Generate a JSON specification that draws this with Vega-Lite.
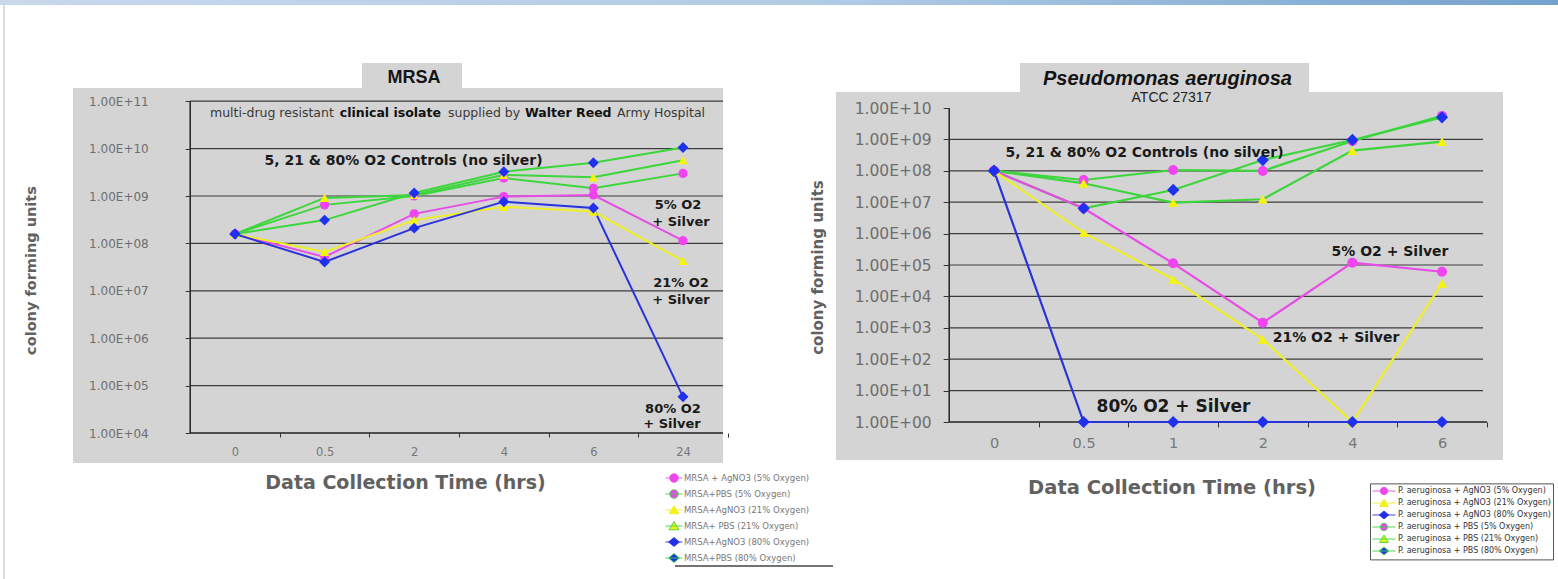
{
  "$schema": "https://vega.github.io/schema/vega-lite/v6.json",
  "padding": 0,
  "background": "white",
  "bounds": "flush",
  "spacing": 0,
  "resolve": {
    "scale": {"color": "independent", "fill": "independent", "stroke": "independent", "shape": "independent", "x": "independent", "y": "independent"},
    "legend": {"color": "independent", "fill": "independent", "stroke": "independent", "shape": "independent"}
  },
  "config": {"view": {"stroke": null}, "font": "DejaVu Sans"},
  "datasets": {
    "mrsa": [
      {"s": "MRSA + AgNO3 (5% Oxygen)", "o2": 5, "ag": 1, "t": "0", "i": 0, "cfu": 1.58e8},
      {"s": "MRSA + AgNO3 (5% Oxygen)", "o2": 5, "ag": 1, "t": "0.5", "i": 1, "cfu": 5.2e7},
      {"s": "MRSA + AgNO3 (5% Oxygen)", "o2": 5, "ag": 1, "t": "2", "i": 2, "cfu": 4.2e8},
      {"s": "MRSA + AgNO3 (5% Oxygen)", "o2": 5, "ag": 1, "t": "4", "i": 3, "cfu": 9.7e8},
      {"s": "MRSA + AgNO3 (5% Oxygen)", "o2": 5, "ag": 1, "t": "6", "i": 4, "cfu": 1.05e9},
      {"s": "MRSA + AgNO3 (5% Oxygen)", "o2": 5, "ag": 1, "t": "24", "i": 5, "cfu": 1.14e8},
      {"s": "MRSA+PBS (5% Oxygen)", "o2": 5, "ag": 0, "t": "0", "i": 0, "cfu": 1.58e8},
      {"s": "MRSA+PBS (5% Oxygen)", "o2": 5, "ag": 0, "t": "0.5", "i": 1, "cfu": 6.5e8},
      {"s": "MRSA+PBS (5% Oxygen)", "o2": 5, "ag": 0, "t": "2", "i": 2, "cfu": 1.0e9},
      {"s": "MRSA+PBS (5% Oxygen)", "o2": 5, "ag": 0, "t": "4", "i": 3, "cfu": 2.4e9},
      {"s": "MRSA+PBS (5% Oxygen)", "o2": 5, "ag": 0, "t": "6", "i": 4, "cfu": 1.45e9},
      {"s": "MRSA+PBS (5% Oxygen)", "o2": 5, "ag": 0, "t": "24", "i": 5, "cfu": 3.0e9},
      {"s": "MRSA+AgNO3 (21% Oxygen)", "o2": 21, "ag": 1, "t": "0", "i": 0, "cfu": 1.58e8},
      {"s": "MRSA+AgNO3 (21% Oxygen)", "o2": 21, "ag": 1, "t": "0.5", "i": 1, "cfu": 6.6e7},
      {"s": "MRSA+AgNO3 (21% Oxygen)", "o2": 21, "ag": 1, "t": "2", "i": 2, "cfu": 3.1e8},
      {"s": "MRSA+AgNO3 (21% Oxygen)", "o2": 21, "ag": 1, "t": "4", "i": 3, "cfu": 5.9e8},
      {"s": "MRSA+AgNO3 (21% Oxygen)", "o2": 21, "ag": 1, "t": "6", "i": 4, "cfu": 4.7e8},
      {"s": "MRSA+AgNO3 (21% Oxygen)", "o2": 21, "ag": 1, "t": "24", "i": 5, "cfu": 4.26e7},
      {"s": "MRSA+ PBS (21% Oxygen)", "o2": 21, "ag": 0, "t": "0", "i": 0, "cfu": 1.58e8},
      {"s": "MRSA+ PBS (21% Oxygen)", "o2": 21, "ag": 0, "t": "0.5", "i": 1, "cfu": 9.1e8},
      {"s": "MRSA+ PBS (21% Oxygen)", "o2": 21, "ag": 0, "t": "2", "i": 2, "cfu": 1.05e9},
      {"s": "MRSA+ PBS (21% Oxygen)", "o2": 21, "ag": 0, "t": "4", "i": 3, "cfu": 2.8e9},
      {"s": "MRSA+ PBS (21% Oxygen)", "o2": 21, "ag": 0, "t": "6", "i": 4, "cfu": 2.48e9},
      {"s": "MRSA+ PBS (21% Oxygen)", "o2": 21, "ag": 0, "t": "24", "i": 5, "cfu": 5.7e9},
      {"s": "MRSA+AgNO3 (80% Oxygen)", "o2": 80, "ag": 1, "t": "0", "i": 0, "cfu": 1.58e8},
      {"s": "MRSA+AgNO3 (80% Oxygen)", "o2": 80, "ag": 1, "t": "0.5", "i": 1, "cfu": 4.05e7},
      {"s": "MRSA+AgNO3 (80% Oxygen)", "o2": 80, "ag": 1, "t": "2", "i": 2, "cfu": 2.1e8},
      {"s": "MRSA+AgNO3 (80% Oxygen)", "o2": 80, "ag": 1, "t": "4", "i": 3, "cfu": 7.6e8},
      {"s": "MRSA+AgNO3 (80% Oxygen)", "o2": 80, "ag": 1, "t": "6", "i": 4, "cfu": 5.6e8},
      {"s": "MRSA+AgNO3 (80% Oxygen)", "o2": 80, "ag": 1, "t": "24", "i": 5, "cfu": 5.8e4},
      {"s": "MRSA+PBS (80% Oxygen)", "o2": 80, "ag": 0, "t": "0", "i": 0, "cfu": 1.58e8},
      {"s": "MRSA+PBS (80% Oxygen)", "o2": 80, "ag": 0, "t": "0.5", "i": 1, "cfu": 3.1e8},
      {"s": "MRSA+PBS (80% Oxygen)", "o2": 80, "ag": 0, "t": "2", "i": 2, "cfu": 1.16e9},
      {"s": "MRSA+PBS (80% Oxygen)", "o2": 80, "ag": 0, "t": "4", "i": 3, "cfu": 3.26e9},
      {"s": "MRSA+PBS (80% Oxygen)", "o2": 80, "ag": 0, "t": "6", "i": 4, "cfu": 5.05e9},
      {"s": "MRSA+PBS (80% Oxygen)", "o2": 80, "ag": 0, "t": "24", "i": 5, "cfu": 1.06e10}
    ],
    "pa": [
      {"s": "P. aeruginosa + AgNO3 (5% Oxygen)", "o2": 5, "ag": 1, "t": "0", "i": 0, "cfu": 1e8},
      {"s": "P. aeruginosa + AgNO3 (5% Oxygen)", "o2": 5, "ag": 1, "t": "0.5", "i": 1, "cfu": 6.4e6},
      {"s": "P. aeruginosa + AgNO3 (5% Oxygen)", "o2": 5, "ag": 1, "t": "1", "i": 2, "cfu": 1.13e5},
      {"s": "P. aeruginosa + AgNO3 (5% Oxygen)", "o2": 5, "ag": 1, "t": "2", "i": 3, "cfu": 1.46e3},
      {"s": "P. aeruginosa + AgNO3 (5% Oxygen)", "o2": 5, "ag": 1, "t": "4", "i": 4, "cfu": 1.19e5},
      {"s": "P. aeruginosa + AgNO3 (5% Oxygen)", "o2": 5, "ag": 1, "t": "6", "i": 5, "cfu": 6.1e4},
      {"s": "P. aeruginosa + AgNO3 (21% Oxygen)", "o2": 21, "ag": 1, "t": "0", "i": 0, "cfu": 1e8},
      {"s": "P. aeruginosa + AgNO3 (21% Oxygen)", "o2": 21, "ag": 1, "t": "0.5", "i": 1, "cfu": 1.07e6},
      {"s": "P. aeruginosa + AgNO3 (21% Oxygen)", "o2": 21, "ag": 1, "t": "1", "i": 2, "cfu": 3.5e4},
      {"s": "P. aeruginosa + AgNO3 (21% Oxygen)", "o2": 21, "ag": 1, "t": "2", "i": 3, "cfu": 430},
      {"s": "P. aeruginosa + AgNO3 (21% Oxygen)", "o2": 21, "ag": 1, "t": "4", "i": 4, "cfu": 1},
      {"s": "P. aeruginosa + AgNO3 (21% Oxygen)", "o2": 21, "ag": 1, "t": "6", "i": 5, "cfu": 2.6e4},
      {"s": "P. aeruginosa + AgNO3 (80% Oxygen)", "o2": 80, "ag": 1, "t": "0", "i": 0, "cfu": 1e8},
      {"s": "P. aeruginosa + AgNO3 (80% Oxygen)", "o2": 80, "ag": 1, "t": "0.5", "i": 1, "cfu": 1},
      {"s": "P. aeruginosa + AgNO3 (80% Oxygen)", "o2": 80, "ag": 1, "t": "1", "i": 2, "cfu": 1},
      {"s": "P. aeruginosa + AgNO3 (80% Oxygen)", "o2": 80, "ag": 1, "t": "2", "i": 3, "cfu": 1},
      {"s": "P. aeruginosa + AgNO3 (80% Oxygen)", "o2": 80, "ag": 1, "t": "4", "i": 4, "cfu": 1},
      {"s": "P. aeruginosa + AgNO3 (80% Oxygen)", "o2": 80, "ag": 1, "t": "6", "i": 5, "cfu": 1},
      {"s": "P. aeruginosa + PBS (5% Oxygen)", "o2": 5, "ag": 0, "t": "0", "i": 0, "cfu": 1e8},
      {"s": "P. aeruginosa + PBS (5% Oxygen)", "o2": 5, "ag": 0, "t": "0.5", "i": 1, "cfu": 5.1e7},
      {"s": "P. aeruginosa + PBS (5% Oxygen)", "o2": 5, "ag": 0, "t": "1", "i": 2, "cfu": 1.06e8},
      {"s": "P. aeruginosa + PBS (5% Oxygen)", "o2": 5, "ag": 0, "t": "2", "i": 3, "cfu": 9.9e7},
      {"s": "P. aeruginosa + PBS (5% Oxygen)", "o2": 5, "ag": 0, "t": "4", "i": 4, "cfu": 8.9e8},
      {"s": "P. aeruginosa + PBS (5% Oxygen)", "o2": 5, "ag": 0, "t": "6", "i": 5, "cfu": 5.6e9},
      {"s": "P. aeruginosa + PBS (21% Oxygen)", "o2": 21, "ag": 0, "t": "0", "i": 0, "cfu": 1e8},
      {"s": "P. aeruginosa + PBS (21% Oxygen)", "o2": 21, "ag": 0, "t": "0.5", "i": 1, "cfu": 4.0e7},
      {"s": "P. aeruginosa + PBS (21% Oxygen)", "o2": 21, "ag": 0, "t": "1", "i": 2, "cfu": 9.7e6},
      {"s": "P. aeruginosa + PBS (21% Oxygen)", "o2": 21, "ag": 0, "t": "2", "i": 3, "cfu": 1.24e7},
      {"s": "P. aeruginosa + PBS (21% Oxygen)", "o2": 21, "ag": 0, "t": "4", "i": 4, "cfu": 4.4e8},
      {"s": "P. aeruginosa + PBS (21% Oxygen)", "o2": 21, "ag": 0, "t": "6", "i": 5, "cfu": 8.5e8},
      {"s": "P. aeruginosa + PBS (80% Oxygen)", "o2": 80, "ag": 0, "t": "0", "i": 0, "cfu": 1e8},
      {"s": "P. aeruginosa + PBS (80% Oxygen)", "o2": 80, "ag": 0, "t": "0.5", "i": 1, "cfu": 6.4e6},
      {"s": "P. aeruginosa + PBS (80% Oxygen)", "o2": 80, "ag": 0, "t": "1", "i": 2, "cfu": 2.45e7},
      {"s": "P. aeruginosa + PBS (80% Oxygen)", "o2": 80, "ag": 0, "t": "2", "i": 3, "cfu": 2.2e8},
      {"s": "P. aeruginosa + PBS (80% Oxygen)", "o2": 80, "ag": 0, "t": "4", "i": 4, "cfu": 9.6e8},
      {"s": "P. aeruginosa + PBS (80% Oxygen)", "o2": 80, "ag": 0, "t": "6", "i": 5, "cfu": 5.05e9}
    ]
  },
  "hconcat": [
    {
      "width": 834,
      "height": 579,
      "data": {"values": [{}]},
      "layer": [
        {"mark": {"type": "rect", "fill": {"gradient": "linear", "x1": 0, "y1": 0, "x2": 1, "y2": 0, "stops": [{"offset": 0, "color": "#c9d8ed"}, {"offset": 1, "color": "#b0cbe5"}]}},
         "encoding": {
           "x": {"datum": -2.6228, "type": "quantitative", "scale": {"domain": [-2.6228, 6.6853], "nice": false, "zero": false},
                 "axis": {"values": [0, 1, 2, 3, 4, 5], "labelExpr": "['0','0.5','2','4','6','24'][datum.value]", "offset": -146, "zindex": 1, "domain": false, "grid": false, "ticks": true, "tickSize": 4, "tickWidth": 1, "tickColor": "#333333", "tickOffset": 44.8, "labelOffset": -44.8, "labelFont": "DejaVu Sans", "labelFontSize": 11.5, "labelColor": "#777777", "labelPadding": 9, "labelFlush": false, "labelOverlap": false, "title": "Data Collection Time (hrs)", "titleFont": "DejaVu Sans", "titleFontSize": 19, "titleFontWeight": "bold", "titleColor": "#616161", "titleX": 405, "titleY": 49, "titleAlign": "center", "titleBaseline": "middle", "titleAngle": 0}},
           "x2": {"datum": 6.6853},
           "y": {"datum": 1.0703e13, "type": "quantitative", "scale": {"type": "log", "domain": [8.317, 1.3646e13], "nice": false},
                 "axis": {"values": [1e4, 1e5, 1e6, 1e7, 1e8, 1e9, 1e10, 1e11], "labelExpr": "'1.00E+' + (round(log(datum.value)/LN10) < 10 ? '0' : '') + round(log(datum.value)/LN10)", "offset": -190.2, "zindex": 1, "domain": false, "grid": false, "ticks": true, "tickSize": 5, "tickWidth": 1, "tickColor": "#333333", "labelFont": "DejaVu Sans", "labelFontSize": 12, "labelColor": "#6e6e6e", "labelPadding": 37, "labelOverlap": false, "labelFlush": false, "title": "colony forming units", "titleFont": "DejaVu Sans", "titleFontSize": 14.5, "titleFontWeight": "bold", "titleColor": "#616161", "titleX": -159.2, "titleY": 270, "titleAngle": -90, "titleAlign": "center", "titleBaseline": "middle"}},
           "y2": {"datum": 1.3646e13}
         }},
        {"mark": {"type": "rule", "stroke": "#d2d2d2", "strokeWidth": 1.5}, "encoding": {"x": {"datum": -2.5781}, "y": {"datum": 1.0703e13}, "y2": {"datum": 8.317}}},
        {"mark": {"type": "rect", "fill": "#d4d4d4"}, "encoding": {"x": {"datum": -1.808}, "x2": {"datum": 5.4464}, "y": {"datum": 2328}, "y2": {"datum": 1.8986e11}}},
        {"mark": {"type": "rect", "fill": "#d4d4d4"}, "encoding": {"x": {"datum": 1.4174}, "x2": {"datum": 2.5335}, "y": {"datum": 1.8986e11}, "y2": {"datum": 6.397e11}}},
        {"data": {"values": [{"g": 1e5}, {"g": 1e6}, {"g": 1e7}, {"g": 1e8}, {"g": 1e9}, {"g": 1e10}, {"g": 1e11}]},
         "mark": {"type": "rule", "stroke": "#3c3c3c", "strokeWidth": 1.2},
         "encoding": {"y": {"field": "g", "type": "quantitative"}, "x": {"datum": -0.5}, "x2": {"datum": 5.4464}}},
        {"mark": {"type": "rule", "stroke": "#222222", "strokeWidth": 1.5}, "encoding": {"x": {"datum": -0.5}, "y": {"datum": 1e4}, "y2": {"datum": 1e11}}},
        {"mark": {"type": "rule", "stroke": "#222222", "strokeWidth": 1.5}, "encoding": {"x": {"datum": -0.5}, "x2": {"datum": 5.4464}, "y": {"datum": 1e4}}},
        {"mark": {"type": "rule", "stroke": "#444444", "strokeWidth": 1.5}, "encoding": {"x": {"datum": 4.9107}, "x2": {"datum": 6.6741}, "y": {"datum": 15.64}}},
        {"data": {"name": "mrsa"}, "transform": [{"filter": "datum.ag == 0"}],
         "mark": {"type": "line", "color": "#3cd63c", "strokeWidth": 2},
         "encoding": {"x": {"field": "i", "type": "quantitative"}, "y": {"field": "cfu", "type": "quantitative"}, "detail": {"field": "s"}}},
        {"data": {"name": "mrsa"}, "transform": [{"filter": "datum.ag == 1"}],
         "mark": {"type": "line", "strokeWidth": 2},
         "encoding": {"x": {"field": "i", "type": "quantitative"}, "y": {"field": "cfu", "type": "quantitative"},
                      "color": {"field": "s", "type": "nominal", "scale": {"domain": ["MRSA + AgNO3 (5% Oxygen)", "MRSA+AgNO3 (21% Oxygen)", "MRSA+AgNO3 (80% Oxygen)"], "range": ["#e84ce8", "#eeee2a", "#2a32dc"]}, "legend": null}}},
        {"data": {"name": "mrsa"}, "transform": [{"filter": "datum.o2 == 5"}],
         "mark": {"type": "point", "shape": "circle", "filled": true, "color": "#f044f0", "size": 85, "opacity": 1},
         "encoding": {"x": {"field": "i", "type": "quantitative"}, "y": {"field": "cfu", "type": "quantitative"}}},
        {"data": {"name": "mrsa"}, "transform": [{"filter": "datum.o2 == 21"}],
         "mark": {"type": "point", "shape": "triangle-up", "filled": true, "color": "#f4f40c", "size": 90, "opacity": 1},
         "encoding": {"x": {"field": "i", "type": "quantitative"}, "y": {"field": "cfu", "type": "quantitative"}}},
        {"data": {"name": "mrsa"}, "transform": [{"filter": "datum.o2 == 80"}],
         "mark": {"type": "point", "shape": "diamond", "filled": true, "color": "#1f30ee", "size": 120, "opacity": 1},
         "encoding": {"x": {"field": "i", "type": "quantitative"}, "y": {"field": "cfu", "type": "quantitative"}}},
        {"data": {"name": "mrsa"}, "transform": [{"filter": "false"}],
         "mark": {"type": "point", "filled": true},
         "encoding": {
           "x": {"field": "i", "type": "quantitative"}, "y": {"field": "cfu", "type": "quantitative"},
           "fill": {"field": "s", "type": "nominal", "scale": {"domain": ["MRSA + AgNO3 (5% Oxygen)", "MRSA+PBS (5% Oxygen)", "MRSA+AgNO3 (21% Oxygen)", "MRSA+ PBS (21% Oxygen)", "MRSA+AgNO3 (80% Oxygen)", "MRSA+PBS (80% Oxygen)"], "range": ["#f044f0", "#f044f0", "#f4f40c", "#f4f40c", "#1f30ee", "#1f30ee"]},
                    "legend": {"orient": "none", "legendX": 665, "legendY": 470.1, "title": null, "padding": 0, "rowPadding": 0, "symbolSize": 289, "clipHeight": 15.8, "symbolStrokeWidth": 0.9, "symbolFillColor": "#000000", "symbolOpacity": 1, "labelFont": "DejaVu Sans", "labelFontSize": 8.5, "labelColor": "#777777", "labelOffset": 1, "labelLimit": 300}},
           "stroke": {"field": "s", "type": "nominal", "scale": {"domain": ["MRSA + AgNO3 (5% Oxygen)", "MRSA+PBS (5% Oxygen)", "MRSA+AgNO3 (21% Oxygen)", "MRSA+ PBS (21% Oxygen)", "MRSA+AgNO3 (80% Oxygen)", "MRSA+PBS (80% Oxygen)"], "range": ["#e84ce8", "#3cd63c", "#eeee2a", "#3cd63c", "#2a32dc", "#3cd63c"]},
                    "legend": {"orient": "none", "legendX": 665, "legendY": 470.1, "title": null, "padding": 0, "rowPadding": 0, "symbolSize": 289, "clipHeight": 15.8, "symbolStrokeWidth": 0.9, "symbolFillColor": "#000000", "symbolOpacity": 1, "labelFont": "DejaVu Sans", "labelFontSize": 8.5, "labelColor": "#777777", "labelOffset": 1, "labelLimit": 300}},
           "shape": {"field": "s", "type": "nominal", "scale": {"domain": ["MRSA + AgNO3 (5% Oxygen)", "MRSA+PBS (5% Oxygen)", "MRSA+AgNO3 (21% Oxygen)", "MRSA+ PBS (21% Oxygen)", "MRSA+AgNO3 (80% Oxygen)", "MRSA+PBS (80% Oxygen)"],
                    "range": ["M-1,0H1M0.5,0A0.5,0.5,0,1,1,-0.5,0A0.5,0.5,0,1,1,0.5,0Z", "M-1,0H1M0.5,0A0.5,0.5,0,1,1,-0.5,0A0.5,0.5,0,1,1,0.5,0Z", "M-1,0H1M0,-0.52L0.58,0.44L-0.58,0.44Z", "M-1,0H1M0,-0.52L0.58,0.44L-0.58,0.44Z", "M-1,0H1M0,-0.52L0.64,0L0,0.52L-0.64,0Z", "M-1,0H1M0,-0.52L0.64,0L0,0.52L-0.64,0Z"]},
                    "legend": {"orient": "none", "legendX": 665, "legendY": 470.1, "title": null, "padding": 0, "rowPadding": 0, "symbolSize": 289, "clipHeight": 15.8, "symbolStrokeWidth": 0.9, "symbolFillColor": "#000000", "symbolOpacity": 1, "labelFont": "DejaVu Sans", "labelFontSize": 8.5, "labelColor": "#777777", "labelOffset": 1, "labelLimit": 300}}
         }},
        {"mark": {"type": "text", "text": "MRSA", "font": "Liberation Sans", "fontSize": 18, "fontWeight": "bold", "align": "center", "baseline": "middle", "color": "#141414"}, "encoding": {"x": {"datum": 1.9978}, "y": {"datum": 3.087e11}}},
        {"mark": {"type": "text", "text": "multi-drug resistant", "fontSize": 12.5, "align": "left", "baseline": "middle", "color": "#383838"}, "encoding": {"x": {"datum": -0.279}, "y": {"datum": 5.638e10}}},
        {"mark": {"type": "text", "text": "clinical isolate", "fontSize": 12.5, "fontWeight": "bold", "align": "left", "baseline": "middle", "color": "#111111"}, "encoding": {"x": {"datum": 1.17}, "y": {"datum": 5.638e10}}},
        {"mark": {"type": "text", "text": "supplied by", "fontSize": 12.5, "align": "left", "baseline": "middle", "color": "#383838"}, "encoding": {"x": {"datum": 2.3772}, "y": {"datum": 5.638e10}}},
        {"mark": {"type": "text", "text": "Walter Reed", "fontSize": 12.5, "fontWeight": "bold", "align": "left", "baseline": "middle", "color": "#111111"}, "encoding": {"x": {"datum": 3.2366}, "y": {"datum": 5.638e10}}},
        {"mark": {"type": "text", "text": "Army Hospital", "fontSize": 12.5, "align": "left", "baseline": "middle", "color": "#383838"}, "encoding": {"x": {"datum": 4.2634}, "y": {"datum": 5.638e10}}},
        {"mark": {"type": "text", "text": "5, 21 & 80% O2 Controls (no silver)", "fontSize": 14, "fontWeight": "bold", "align": "center", "baseline": "middle", "color": "#1a1a1a"}, "encoding": {"x": {"datum": 1.8806}, "y": {"datum": 5.475e9}}},
        {"mark": {"type": "text", "text": "5% O2", "fontSize": 13, "fontWeight": "bold", "align": "center", "baseline": "middle", "color": "#1a1a1a"}, "encoding": {"x": {"datum": 4.944}, "y": {"datum": 6.457e8}}},
        {"mark": {"type": "text", "text": "+ Silver", "fontSize": 13, "fontWeight": "bold", "align": "center", "baseline": "middle", "color": "#1a1a1a"}, "encoding": {"x": {"datum": 4.978}, "y": {"datum": 2.825e8}}},
        {"mark": {"type": "text", "text": "21% O2", "fontSize": 13, "fontWeight": "bold", "align": "center", "baseline": "middle", "color": "#1a1a1a"}, "encoding": {"x": {"datum": 4.978}, "y": {"datum": 1.462e7}}},
        {"mark": {"type": "text", "text": "+ Silver", "fontSize": 13, "fontWeight": "bold", "align": "center", "baseline": "middle", "color": "#1a1a1a"}, "encoding": {"x": {"datum": 4.978}, "y": {"datum": 6.397e6}}},
        {"mark": {"type": "text", "text": "80% O2", "fontSize": 13, "fontWeight": "bold", "align": "center", "baseline": "middle", "color": "#1a1a1a"}, "encoding": {"x": {"datum": 4.888}, "y": {"datum": 3.206e4}}},
        {"mark": {"type": "text", "text": "+ Silver", "fontSize": 13, "fontWeight": "bold", "align": "center", "baseline": "middle", "color": "#1a1a1a"}, "encoding": {"x": {"datum": 4.877}, "y": {"datum": 1.549e4}}}
      ]
    },
    {
      "width": 724,
      "height": 579,
      "data": {"values": [{}]},
      "layer": [
        {"mark": {"type": "rect", "fill": {"gradient": "linear", "x1": 0, "y1": 0, "x2": 1, "y2": 0, "stops": [{"offset": 0, "color": "#b0cbe5"}, {"offset": 1, "color": "#74a2cf"}]}},
         "encoding": {
           "x": {"datum": -1.7857, "type": "quantitative", "scale": {"domain": [-1.7857, 6.2946], "nice": false, "zero": false},
                 "axis": {"values": [0, 1, 2, 3, 4, 5], "labelExpr": "['0','0.5','1','2','4','6'][datum.value]", "offset": -157, "zindex": 1, "domain": false, "grid": false, "ticks": true, "tickSize": 5, "tickWidth": 1, "tickColor": "#333333", "tickOffset": 44.8, "labelOffset": -44.8, "labelFont": "DejaVu Sans", "labelFontSize": 14.5, "labelColor": "#777777", "labelPadding": 9, "labelFlush": false, "labelOverlap": false, "title": "Data Collection Time (hrs)", "titleFont": "DejaVu Sans", "titleFontSize": 19.5, "titleFontWeight": "bold", "titleColor": "#616161", "titleX": 337.5, "titleY": 65, "titleAlign": "center", "titleBaseline": "middle", "titleAngle": 0}},
           "x2": {"datum": 6.2946},
           "y": {"datum": 1.9067e13, "type": "quantitative", "scale": {"type": "log", "domain": [1e-5, 2.7511e13], "nice": false},
                 "axis": {"values": [1, 10, 100, 1e3, 1e4, 1e5, 1e6, 1e7, 1e8, 1e9, 1e10], "labelExpr": "'1.00E+' + (round(log(datum.value)/LN10) < 10 ? '0' : '') + round(log(datum.value)/LN10)", "offset": -115.2, "zindex": 1, "domain": false, "grid": false, "ticks": true, "tickSize": 6, "tickWidth": 1, "tickColor": "#333333", "labelFont": "DejaVu Sans", "labelFontSize": 15.5, "labelColor": "#6e6e6e", "labelPadding": 12, "labelOverlap": false, "labelFlush": false, "title": "colony forming units", "titleFont": "DejaVu Sans", "titleFontSize": 15, "titleFontWeight": "bold", "titleColor": "#616161", "titleX": -132.2, "titleY": 267, "titleAngle": -90, "titleAlign": "center", "titleBaseline": "middle"}},
           "y2": {"datum": 2.7511e13}
         }},
        {"mark": {"type": "rect", "fill": "#d4d4d4"}, "encoding": {"x": {"datum": -1.7634}, "x2": {"datum": 5.6808}, "y": {"datum": 0.06164}, "y2": {"datum": 3.233e10}}},
        {"mark": {"type": "rect", "fill": "#d4d4d4"}, "encoding": {"x": {"datum": 0.2902}, "x2": {"datum": 3.5156}, "y": {"datum": 3.233e10}, "y2": {"datum": 2.711e11}}},
        {"data": {"values": [{"g": 10}, {"g": 100}, {"g": 1e3}, {"g": 1e4}, {"g": 1e5}, {"g": 1e6}, {"g": 1e7}, {"g": 1e8}, {"g": 1e9}]},
         "mark": {"type": "rule", "stroke": "#3c3c3c", "strokeWidth": 1.2},
         "encoding": {"y": {"field": "g", "type": "quantitative"}, "x": {"datum": -0.5}, "x2": {"datum": 5.4576}}},
        {"mark": {"type": "rule", "stroke": "#222222", "strokeWidth": 1.5}, "encoding": {"x": {"datum": -0.5}, "y": {"datum": 1}, "y2": {"datum": 1e10}}},
        {"mark": {"type": "rule", "stroke": "#222222", "strokeWidth": 1.5}, "encoding": {"x": {"datum": -0.5}, "x2": {"datum": 5.502}, "y": {"datum": 1}}},
        {"data": {"name": "pa"}, "transform": [{"filter": "datum.ag == 0"}],
         "mark": {"type": "line", "color": "#3cd63c", "strokeWidth": 2.2},
         "encoding": {"x": {"field": "i", "type": "quantitative"}, "y": {"field": "cfu", "type": "quantitative"}, "detail": {"field": "s"}}},
        {"data": {"name": "pa"}, "transform": [{"filter": "datum.ag == 1"}],
         "mark": {"type": "line", "strokeWidth": 2.2},
         "encoding": {"x": {"field": "i", "type": "quantitative"}, "y": {"field": "cfu", "type": "quantitative"},
                      "color": {"field": "s", "type": "nominal", "scale": {"domain": ["P. aeruginosa + AgNO3 (5% Oxygen)", "P. aeruginosa + AgNO3 (21% Oxygen)", "P. aeruginosa + AgNO3 (80% Oxygen)"], "range": ["#e84ce8", "#eeee2a", "#2a32dc"]}, "legend": null}}},
        {"data": {"name": "pa"}, "transform": [{"filter": "datum.o2 == 5"}],
         "mark": {"type": "point", "shape": "circle", "filled": true, "color": "#f044f0", "size": 100, "opacity": 1},
         "encoding": {"x": {"field": "i", "type": "quantitative"}, "y": {"field": "cfu", "type": "quantitative"}}},
        {"data": {"name": "pa"}, "transform": [{"filter": "datum.o2 == 21"}],
         "mark": {"type": "point", "shape": "triangle-up", "filled": true, "color": "#f4f40c", "size": 100, "opacity": 1},
         "encoding": {"x": {"field": "i", "type": "quantitative"}, "y": {"field": "cfu", "type": "quantitative"}}},
        {"data": {"name": "pa"}, "transform": [{"filter": "datum.o2 == 80"}],
         "mark": {"type": "point", "shape": "diamond", "filled": true, "color": "#1f30ee", "size": 150, "opacity": 1},
         "encoding": {"x": {"field": "i", "type": "quantitative"}, "y": {"field": "cfu", "type": "quantitative"}}},
        {"data": {"name": "pa"}, "transform": [{"filter": "false"}],
         "mark": {"type": "point", "filled": true},
         "encoding": {
           "x": {"field": "i", "type": "quantitative"}, "y": {"field": "cfu", "type": "quantitative"},
           "fill": {"field": "s", "type": "nominal", "scale": {"domain": ["P. aeruginosa + AgNO3 (5% Oxygen)", "P. aeruginosa + AgNO3 (21% Oxygen)", "P. aeruginosa + AgNO3 (80% Oxygen)", "P. aeruginosa + PBS (5% Oxygen)", "P. aeruginosa + PBS (21% Oxygen)", "P. aeruginosa + PBS (80% Oxygen)"], "range": ["#f044f0", "#f4f40c", "#1f30ee", "#f044f0", "#f4f40c", "#1f30ee"]},
                    "legend": {"orient": "none", "legendX": 536, "legendY": 483.4, "title": null, "padding": 2, "rowPadding": 0, "symbolSize": 529, "clipHeight": 11.2, "symbolStrokeWidth": 0.9, "strokeColor": "#555555", "fillColor": "#ffffff", "symbolFillColor": "#000000", "symbolOpacity": 1, "labelFont": "DejaVu Sans", "labelFontSize": 8, "labelColor": "#333333", "labelOffset": 2, "labelLimit": 300}},
           "stroke": {"field": "s", "type": "nominal", "scale": {"domain": ["P. aeruginosa + AgNO3 (5% Oxygen)", "P. aeruginosa + AgNO3 (21% Oxygen)", "P. aeruginosa + AgNO3 (80% Oxygen)", "P. aeruginosa + PBS (5% Oxygen)", "P. aeruginosa + PBS (21% Oxygen)", "P. aeruginosa + PBS (80% Oxygen)"], "range": ["#e84ce8", "#eeee2a", "#2a32dc", "#3cd63c", "#3cd63c", "#3cd63c"]},
                    "legend": {"orient": "none", "legendX": 536, "legendY": 483.4, "title": null, "padding": 2, "rowPadding": 0, "symbolSize": 529, "clipHeight": 11.2, "symbolStrokeWidth": 0.9, "strokeColor": "#555555", "fillColor": "#ffffff", "symbolFillColor": "#000000", "symbolOpacity": 1, "labelFont": "DejaVu Sans", "labelFontSize": 8, "labelColor": "#333333", "labelOffset": 2, "labelLimit": 300}},
           "shape": {"field": "s", "type": "nominal", "scale": {"domain": ["P. aeruginosa + AgNO3 (5% Oxygen)", "P. aeruginosa + AgNO3 (21% Oxygen)", "P. aeruginosa + AgNO3 (80% Oxygen)", "P. aeruginosa + PBS (5% Oxygen)", "P. aeruginosa + PBS (21% Oxygen)", "P. aeruginosa + PBS (80% Oxygen)"],
                    "range": ["M-1,0H1M0.32,0A0.32,0.32,0,1,1,-0.32,0A0.32,0.32,0,1,1,0.32,0Z", "M-1,0H1M0,-0.34L0.38,0.3L-0.38,0.3Z", "M-1,0H1M0,-0.34L0.42,0L0,0.34L-0.42,0Z", "M-1,0H1M0.32,0A0.32,0.32,0,1,1,-0.32,0A0.32,0.32,0,1,1,0.32,0Z", "M-1,0H1M0,-0.34L0.38,0.3L-0.38,0.3Z", "M-1,0H1M0,-0.34L0.42,0L0,0.34L-0.42,0Z"]},
                    "legend": {"orient": "none", "legendX": 536, "legendY": 483.4, "title": null, "padding": 2, "rowPadding": 0, "symbolSize": 529, "clipHeight": 11.2, "symbolStrokeWidth": 0.9, "strokeColor": "#555555", "fillColor": "#ffffff", "symbolFillColor": "#000000", "symbolOpacity": 1, "labelFont": "DejaVu Sans", "labelFontSize": 8, "labelColor": "#333333", "labelOffset": 2, "labelLimit": 300}}
         }},
        {"mark": {"type": "text", "text": "Pseudomonas aeruginosa", "font": "Liberation Sans", "fontSize": 20, "fontWeight": "bold", "fontStyle": "italic", "align": "center", "baseline": "middle", "color": "#141414"}, "encoding": {"x": {"datum": 1.9364}, "y": {"datum": 8.387e10}}},
        {"mark": {"type": "text", "text": "ATCC 27317", "font": "Liberation Sans", "fontSize": 14, "align": "center", "baseline": "middle", "color": "#222222"}, "encoding": {"x": {"datum": 1.981}, "y": {"datum": 2.082e10}}},
        {"mark": {"type": "text", "text": "5, 21 & 80% O2 Controls (no silver)", "fontSize": 14, "fontWeight": "bold", "align": "center", "baseline": "middle", "color": "#1a1a1a"}, "encoding": {"x": {"datum": 1.6797}, "y": {"datum": 3.69e8}}},
        {"mark": {"type": "text", "text": "5% O2 + Silver", "fontSize": 14, "fontWeight": "bold", "align": "center", "baseline": "middle", "color": "#1a1a1a"}, "encoding": {"x": {"datum": 4.4196}, "y": {"datum": 2.594e5}}},
        {"mark": {"type": "text", "text": "21% O2 + Silver", "fontSize": 14, "fontWeight": "bold", "align": "center", "baseline": "middle", "color": "#1a1a1a"}, "encoding": {"x": {"datum": 3.817}, "y": {"datum": 491}}},
        {"mark": {"type": "text", "text": "80% O2 + Silver", "fontSize": 17, "fontWeight": "bold", "align": "center", "baseline": "middle", "color": "#1a1a1a"}, "encoding": {"x": {"datum": 2.0033}, "y": {"datum": 2.896}}}
      ]
    }
  ]
}
